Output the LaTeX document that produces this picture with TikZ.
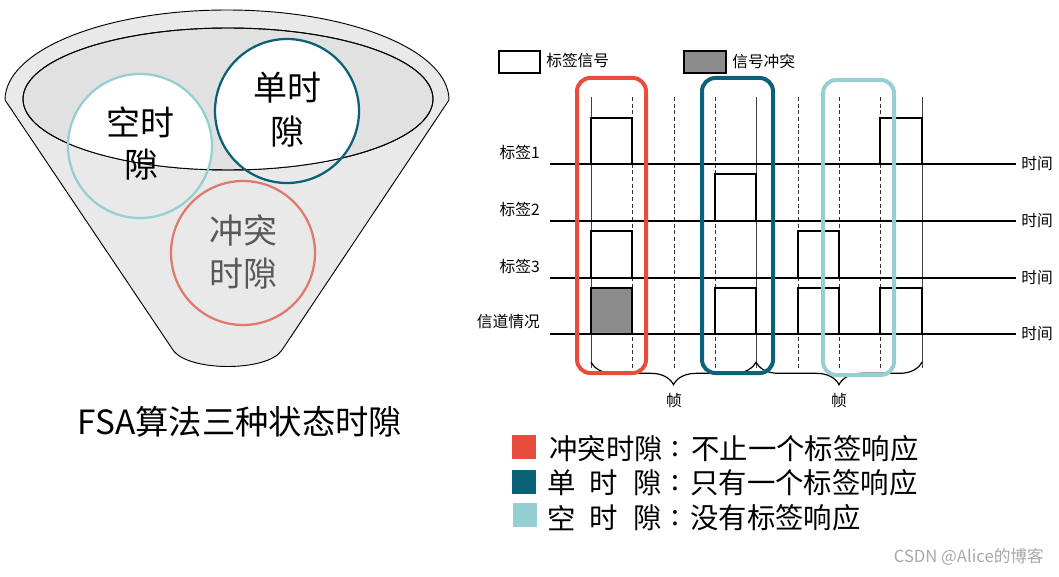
\documentclass[tikz,border=0pt]{standalone}
\usepackage{fontspec}
\setmainfont{Noto Sans CJK SC}
\usetikzlibrary{decorations.pathreplacing}
\definecolor{cred}{HTML}{E84C3D}
\definecolor{cdark}{HTML}{0B6178}
\definecolor{clight}{HTML}{96CFD2}
\definecolor{csalmon}{HTML}{E07A6E}
\definecolor{funnelgray}{HTML}{E9E9E9}
\definecolor{innergray}{HTML}{E1E1E1}
\definecolor{slotgray}{HTML}{8C8C8C}
\definecolor{wmgray}{HTML}{A8A8A8}
\begin{document}
\begin{tikzpicture}[x=0.75pt,y=-0.75pt,
  big/.style={font=\fontsize{25.5}{30}\selectfont, inner sep=0pt},
  captiontext/.style={font=\fontsize{25}{30}\selectfont, inner sep=0pt},
  leg/.style={font=\fontsize{21.3}{24}\selectfont, inner sep=0pt},
  small/.style={font=\fontsize{11.8}{14}\selectfont, inner sep=0pt},
  sig/.style={draw=black, fill=white, line width=1.1pt},
  col/.style={draw=black, fill=slotgray, line width=1.1pt},
  axis/.style={draw=black, line width=1.1pt},
  vsolid/.style={draw=black!75, line width=0.7pt},
  vdash/.style={draw=black!80, line width=0.7pt, dash pattern=on 3pt off 2pt},
  frame/.style={line width=3pt, rounded corners=10pt},
  slotbrace/.style={draw=black, line width=0.9pt, decorate,
    decoration={brace, mirror, amplitude=17pt}},
  ring/.style={line width=1.7pt}
]
\useasboundingbox (0,0) rectangle (1059,577);

% ---------------- funnel ----------------
\filldraw[fill=funnelgray, draw=black, line width=0.7pt]
  (5,100) arc[start angle=180, end angle=360, x radius=222, y radius=90]
  -- (282,350) .. controls (268,372) and (188,372) .. (173,350) -- cycle;
\filldraw[fill=innergray, draw=black, line width=0.7pt]
  (228,99) ellipse [x radius=205, y radius=71];
\begin{scope}
  \clip (228,99) ellipse [x radius=205, y radius=71];
  \fill[white] (140,146) circle [radius=72];
  \fill[white] (287,111) circle [radius=72];
\end{scope}
\draw[black, line width=0.7pt] (228,99) ellipse [x radius=205, y radius=71];
\draw[ring, clight] (140,146) circle [radius=72];
\draw[ring, cdark] (287,111) circle [radius=72];
\draw[ring, csalmon] (243,253) circle [radius=72];

\node[big] (k1) at (140,122) {空时};
\node[big] (k2) at (141,165) {隙};
\node[big] (d1) at (287,88) {单时};
\node[big] (d2) at (287,132) {隙};
\node[big, text=black!65] (c1) at (243,230) {冲突};
\node[big, text=black!65] (c2) at (243,274) {时隙};

\node[captiontext] (caption) at (240,422) {FSA算法三种状态时隙};

% ---------------- top legend ----------------
\draw[sig] (499,51) rectangle (540,73);
\node[small, anchor=west] (lsig) at (546,61) {标签信号};
\draw[col] (684,51) rectangle (726,73);
\node[small, anchor=west] (lcol) at (732,61) {信号冲突};

% ---------------- slot boundaries ----------------
\foreach \x in {591,756,922} \draw[vsolid] (\x,97) -- (\x,368);
\foreach \x in {632,674,715,798,839,880} \draw[vdash] (\x,97) -- (\x,370);

% ---------------- time axes ----------------
\foreach \i/\y/\t in {1/164/标签1, 2/221/标签2, 3/278/标签3, 4/334/信道情况} {
  \coordinate (as\i) at (550,\y);
  \node[small, anchor=west, inner sep=0pt] (tm\i) at (1021,\y) {时间};
  \node[small, anchor=east] (tag\i) at (540,\y-12) {\t};
  \draw[axis] (as\i) -- (1016,\y);
}

% ---------------- slot boxes ----------------
\draw[sig] (591,118) rectangle (632,164);
\draw[sig] (880,118) rectangle (922,164);
\draw[sig] (715,174) rectangle (756,221);
\draw[sig] (591,231) rectangle (632,278);
\draw[sig] (798,231) rectangle (839,278);
\draw[col] (591,288) rectangle (632,334);
\draw[sig] (715,288) rectangle (756,334);
\draw[sig] (798,288) rectangle (839,334);
\draw[sig] (880,288) rectangle (922,334);

% ---------------- frames (braces) ----------------
\draw[slotbrace] (591,362) -- (756,362);
\draw[slotbrace] (756,362) -- (922,362);
\node[small] (f1) at (674,401) {帧};
\node[small] (f2) at (839,401) {帧};

% ---------------- highlight frames ----------------
\draw[frame, cred] (577,78) rectangle (646,373);
\draw[frame, cdark] (702,78) rectangle (773,373);
\draw[frame, clight] (823,80) rectangle (894,375);

% ---------------- bottom legend ----------------
\fill[cred] (512,435) rectangle (536,459);
\fill[cdark] (512,470) rectangle (536,494);
\fill[clight] (513,503) rectangle (537,527);

\node[leg, anchor=west] (r1) at (549,449) {冲突时隙};
\node[leg] (r1c) at (675,449) {:};
\node[leg, anchor=west] (r1t) at (691,449) {不止一个标签响应};

\node[leg] (r2a) at (562,483) {单};
\node[leg] (r2b) at (604,483) {时};
\node[leg] (r2d) at (648,483) {隙};
\node[leg] (r2c) at (675,483) {:};
\node[leg, anchor=west] (r2t) at (690,483) {只有一个标签响应};

\node[leg] (r3a) at (562,518) {空};
\node[leg] (r3b) at (604,518) {时};
\node[leg] (r3d) at (648,518) {隙};
\node[leg] (r3c) at (675,518) {:};
\node[leg, anchor=west] (r3t) at (690,518) {没有标签响应};

\node[font=\fontsize{12.5}{15}\selectfont, text=wmgray, anchor=east, inner sep=0pt] (wm) at (1044,557) {CSDN @Alice的博客};
\end{tikzpicture}
\end{document}
